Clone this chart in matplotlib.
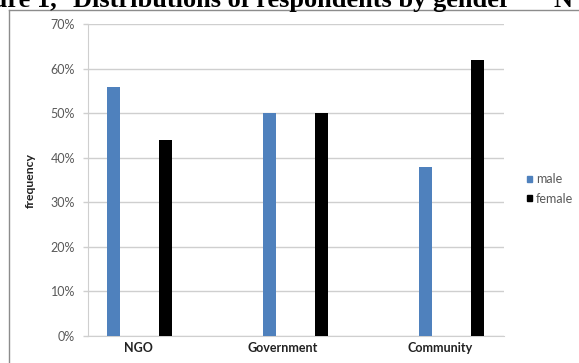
import numpy as np
import matplotlib.pyplot as plt
from matplotlib.lines import Line2D
from matplotlib.patches import Patch

# ---- data ----
categories = ["NGO", "Government", "Community"]
male       = [56, 50, 38]
female     = [44, 50, 62]
y_ticks    = [0, 10, 20, 30, 40, 50, 60, 70]

# ---- layout ----
W, H = 579, 363
BAR_W      = 0.085
BAR_OFFSET = 0.168
LABEL_SHIFT = [-0.01, -0.08, -0.07]   # excel put its labels a bit off the bar groups
MALE_C   = "#4F81BD"
FEMALE_C = "#000000"
GRID_C   = "#cfcfcf"
TEXT_C   = "#595959"

plt.rcParams["font.family"] = ["Lato", "DejaVu Sans"]

fig = plt.figure(figsize=(W / 100, H / 100), dpi=100)
ax = fig.add_axes([87.7 / W, 1 - 336 / H, (504 - 87.7) / W, (336 - 24.3) / H])

x = np.arange(len(categories))
ax.bar(x - BAR_OFFSET, male,   BAR_W, color=MALE_C,   label="male",   zorder=3)
ax.bar(x + BAR_OFFSET, female, BAR_W, color=FEMALE_C, label="female", zorder=3)

ax.set_xlim((87.7 - 139.5) / 156, (504 - 139.5) / 156)
ax.set_ylim(0, 70)

ax.set_yticks(y_ticks)
ax.set_yticklabels([f"{t}%" for t in y_ticks])
ax.yaxis.grid(True, color=GRID_C, lw=1, zorder=0)
ax.tick_params(axis="y", length=3.4, width=1, color=GRID_C, pad=5.8,
               labelsize=9, labelcolor=TEXT_C)

ax.set_xticks(x + np.array(LABEL_SHIFT))
ax.set_xticklabels(categories, fontweight="bold")
ax.tick_params(axis="x", length=0, pad=4.5, labelsize=9, labelcolor="#222222")

for s in ["top", "right"]:
    ax.spines[s].set_visible(False)
ax.spines["left"].set_color(GRID_C)
ax.spines["bottom"].set_color(GRID_C)

ax.set_ylabel("frequency", fontsize=8.8, fontweight="bold", color="#222222", labelpad=0)
ax.yaxis.set_label_coords((36 - 87.7) / (504 - 87.7), 0.5)

# legend to the right
handles = [Patch(color=MALE_C, label="male"), Patch(color=FEMALE_C, label="female")]
fig.legend(handles=handles, loc="center left", bbox_to_anchor=(526.7 / W, 1 - 189 / H),
           frameon=False, fontsize=9, handlelength=0.4, handleheight=0.4,
           handletextpad=0.35, labelspacing=0.6, borderpad=0, borderaxespad=0,
           labelcolor=TEXT_C)

# chart border (only the top and left edge are in the crop)
fig.add_artist(Line2D([9 / W, 9 / W], [0, 1 - 9.5 / H], color="#8c8c8c", lw=1))
fig.add_artist(Line2D([9 / W, 1], [1 - 9.5 / H, 1 - 9.5 / H], color="#8c8c8c", lw=1))

# caption of the document, cut off at the top of the crop
cap_y = 1 - 6.7 / H
fig.text(57 / W, cap_y, "Figure 1,", ha="right", va="baseline", fontsize=19,
         fontweight="bold", family="Liberation Serif")
fig.text(72.7 / W, cap_y, "Distributions of respondents by gender", ha="left",
         va="baseline", fontsize=19, fontweight="bold", family="Liberation Serif")
fig.text(554 / W, cap_y, "N", ha="left", va="baseline", fontsize=19,
         fontweight="bold", family="Liberation Serif")

fig.savefig("out.png", dpi=100)
